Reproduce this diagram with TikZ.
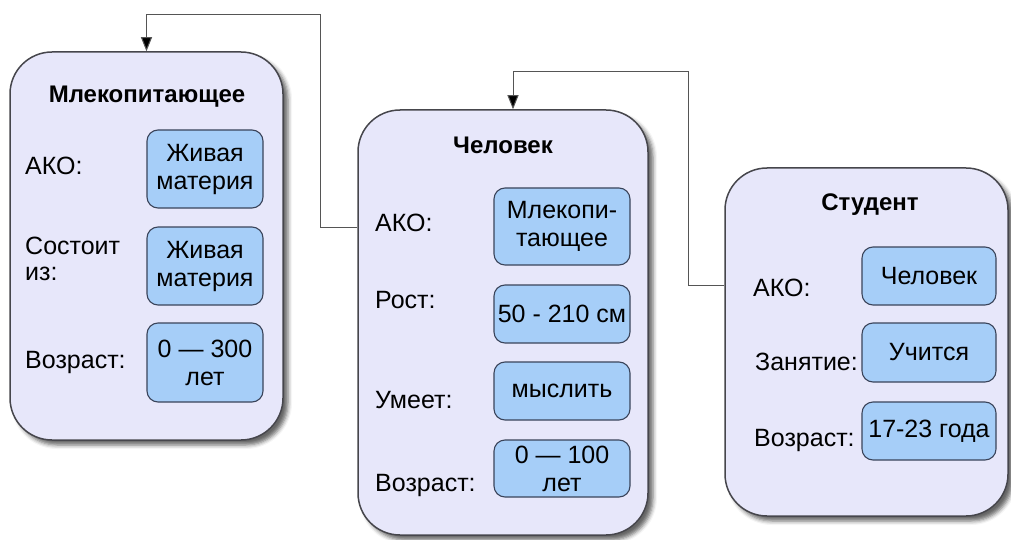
\documentclass[tikz,border=0pt]{standalone}
\usepackage{fontspec}
\setmainfont{Liberation Sans}
\usetikzlibrary{arrows.meta,shadows.blur}

\definecolor{framefill}{RGB}{231,231,250}
\definecolor{frameline}{RGB}{70,70,76}
\definecolor{slotfill}{RGB}{166,206,248}
\definecolor{slotline}{RGB}{58,68,90}
\definecolor{linkline}{RGB}{85,85,85}

\tikzset{
  frame/.style={draw=frameline, line width=1.5pt, fill=framefill,
    rounded corners=42pt, inner sep=0pt,
    blur shadow={shadow xshift=5pt, shadow yshift=-5pt,
                 shadow blur radius=4pt, shadow opacity=60}},
  slot/.style={draw=slotline, line width=1.1pt, fill=slotfill,
    rounded corners=11pt, inner sep=0pt, align=center,
    font=\fontsize{25}{28}\selectfont},
  title/.style={font=\fontsize{24}{28}\bfseries\selectfont},
  label/.style={anchor=west, align=left, inner sep=0pt,
    font=\fontsize{25}{26}\selectfont},
  link/.style={draw=linkline, line width=1pt},
  tip/.style={-{Triangle[length=14pt,width=11pt,fill=black]}}
}

\begin{document}
\begin{tikzpicture}[x=1pt,y=-1pt]
  \useasboundingbox (0,0) rectangle (1011,540);

  % frames
  \node[frame, minimum width=273pt, minimum height=388pt] (f1) at (146.5,246) {};
  \node[frame, minimum width=290pt, minimum height=425pt] (f2) at (503,322.5) {};
  \node[frame, minimum width=283pt, minimum height=348pt] (f3) at (866.5,342) {};

  % frame 1
  \node[title] (t1) at (147,97) {Млекопитающее};
  \node[label] (l11) at (25,166) {АКО:};
  \node[label] (l12) at (25,259) {Состоит\\из:};
  \node[label] (l13) at (25,362) {Возраст:};
  \node[slot, minimum width=116pt, minimum height=78pt] (s11) at (205,169) {Живая\\материя};
  \node[slot, minimum width=116pt, minimum height=78pt] (s12) at (205,266) {Живая\\материя};
  \node[slot, minimum width=116pt, minimum height=79pt] (s13) at (205,362.5) {0 — 300\\лет};

  % frame 2
  \node[title] (t2) at (503,145) {Человек};
  \node[label] (l21) at (375,223) {АКО:};
  \node[label] (l22) at (375,300) {Рост:};
  \node[label] (l23) at (375,400) {Умеет:};
  \node[label] (l24) at (375,485) {Возраст:};
  \node[slot, minimum width=136pt, minimum height=77pt] (s21) at (562,226.5) {Млекопи-\\тающее};
  \node[slot, minimum width=136pt, minimum height=58pt] (s22) at (562,314) {50 - 210 см};
  \node[slot, minimum width=136pt, minimum height=58pt] (s23) at (562,391) {мыслить};
  \node[slot, minimum width=136pt, minimum height=57pt] (s24) at (562,468.5) {0 — 100\\лет};

  % frame 3
  \node[title] (t3) at (870,205) {Студент};
  \node[label] (l31) at (753,288) {АКО:};
  \node[label] (l32) at (755,362) {Занятие:};
  \node[label] (l33) at (754,440) {Возраст:};
  \node[slot, minimum width=134pt, minimum height=58pt] (s31) at (929,276) {Человек};
  \node[slot, minimum width=134pt, minimum height=59pt] (s32) at (929,352.5) {Учится};
  \node[slot, minimum width=134pt, minimum height=58pt] (s33) at (929,431) {17-23 года};

  % AKO links
  \coordinate (a1) at (0,227);
  \coordinate (j1) at (320,15);
  \coordinate (a2) at (0,285);
  \coordinate (j2) at (688,72);
  \coordinate (e2) at (513,0);
  \draw[link, tip] (f2.west |- a1) -| (j1) -| (f1.north);
  \draw[link, tip] (f3.west |- a2) -| (j2) -| (e2 |- f2.north);
\end{tikzpicture}
\end{document}
